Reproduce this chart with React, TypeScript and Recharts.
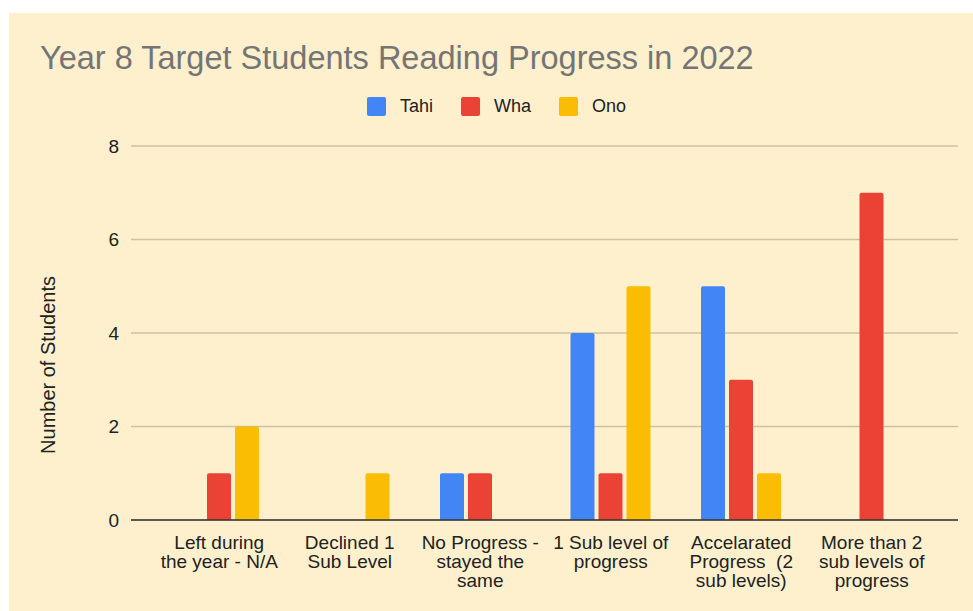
import React from 'react';
import { BarChart, Bar, XAxis, YAxis, CartesianGrid } from 'recharts';

const categories = [
  'Left during the year - N/A',
  'Declined 1 Sub Level',
  'No Progress - stayed the same',
  '1 Sub level of progress',
  'Accelarated Progress  (2 sub levels)',
  'More than 2 sub levels of progress',
];
const tickLines = [
  ['Left during', 'the year - N/A'],
  ['Declined 1', 'Sub Level'],
  ['No Progress -', 'stayed the', 'same'],
  ['1 Sub level of', 'progress'],
  ['Accelarated', 'Progress  (2', 'sub levels)'],
  ['More than 2', 'sub levels of', 'progress'],
];
const tahi = [0, 0, 1, 4, 5, 0];
const wha = [1, 0, 1, 1, 3, 7];
const ono = [2, 1, 0, 5, 1, 0];
const yTicks = [0, 2, 4, 6, 8];

const series = [
  { key: 'Tahi', color: '#4285f4' },
  { key: 'Wha', color: '#ea4335' },
  { key: 'Ono', color: '#fbbc04' },
];

const data = categories.map((name, i) => ({
  name,
  Tahi: tahi[i],
  Wha: wha[i],
  Ono: ono[i],
}));

const FONT = '"Liberation Sans", Arial, sans-serif';

const XTick = ({ x, y, payload }: any) => {
  const lines = tickLines[payload.index] || [payload.value];
  return (
    <text x={x} y={y + 27} textAnchor="middle" fill="#222" fontSize={19} fontFamily={FONT} style={{ whiteSpace: 'pre' }}>
      {lines.map((l, i) => (
        <tspan key={i} x={x} dy={i === 0 ? 0 : 19}>{l}</tspan>
      ))}
    </text>
  );
};

// legend drawn outside the chart so it doesn't eat plot height
const ChartLegend = () => (
  <div style={{ position: 'absolute', left: 358, top: 84, display: 'flex', alignItems: 'center', fontFamily: FONT, fontSize: 18, color: '#222', lineHeight: '19px' }}>
    {series.map((s) => (
      <div key={s.key} style={{ display: 'flex', alignItems: 'center', marginRight: 28 }}>
        <span style={{ width: 19, height: 19, background: s.color, borderRadius: 2, marginRight: 14, display: 'inline-block' }} />
        <span>{s.key}</span>
      </div>
    ))}
  </div>
);

export default function App() {
  return (
    <div style={{ position: 'fixed', left: 0, top: 0, width: 973, height: 611, background: '#fff' }}>
      <div style={{ position: 'absolute', left: 9, top: 13, width: 964, height: 598, background: '#fef0cd' }}>
        <svg width={964} height={598} style={{ position: 'absolute', left: 0, top: 0 }}>
          <text x={31} y={56} fill="#757575" fontSize={32.5} fontFamily={FONT}>
            Year 8 Target Students Reading Progress in 2022
          </text>
          <text
            x={39}
            y={352}
            transform="rotate(-90 39 352)"
            textAnchor="middle"
            dominantBaseline="central"
            fill="#222"
            fontSize={20}
            fontFamily={FONT}
          >
            Number of Students
          </text>
        </svg>
        <ChartLegend />
        <div style={{ position: 'absolute', left: 0, top: 0 }}>
          <BarChart
            width={964}
            height={598}
            data={data}
            margin={{ top: 133, right: 15, bottom: 0, left: 62 }}
            barSize={24}
            barGap={4}
          >
            <CartesianGrid vertical={false} stroke="#cfc1a0" strokeWidth={1.3} />
            <XAxis
              dataKey="name"
              interval={0}
              tickLine={false}
              tickSize={0}
              axisLine={{ stroke: '#333', strokeWidth: 1.5 }}
              padding={{ left: 23, right: 21 }}
              tick={<XTick />}
              height={91}
            />
            <YAxis
              width={60}
              domain={[0, 8]}
              ticks={yTicks}
              axisLine={false}
              tickLine={false}
              tickSize={0}
              tickMargin={12}
              tick={{ fill: '#222', fontSize: 19, fontFamily: FONT }}
            />
            {series.map((s) => (
              <Bar key={s.key} dataKey={s.key} fill={s.color} radius={[2, 2, 0, 0]} isAnimationActive={false} />
            ))}
          </BarChart>
        </div>
      </div>
    </div>
  );
}
